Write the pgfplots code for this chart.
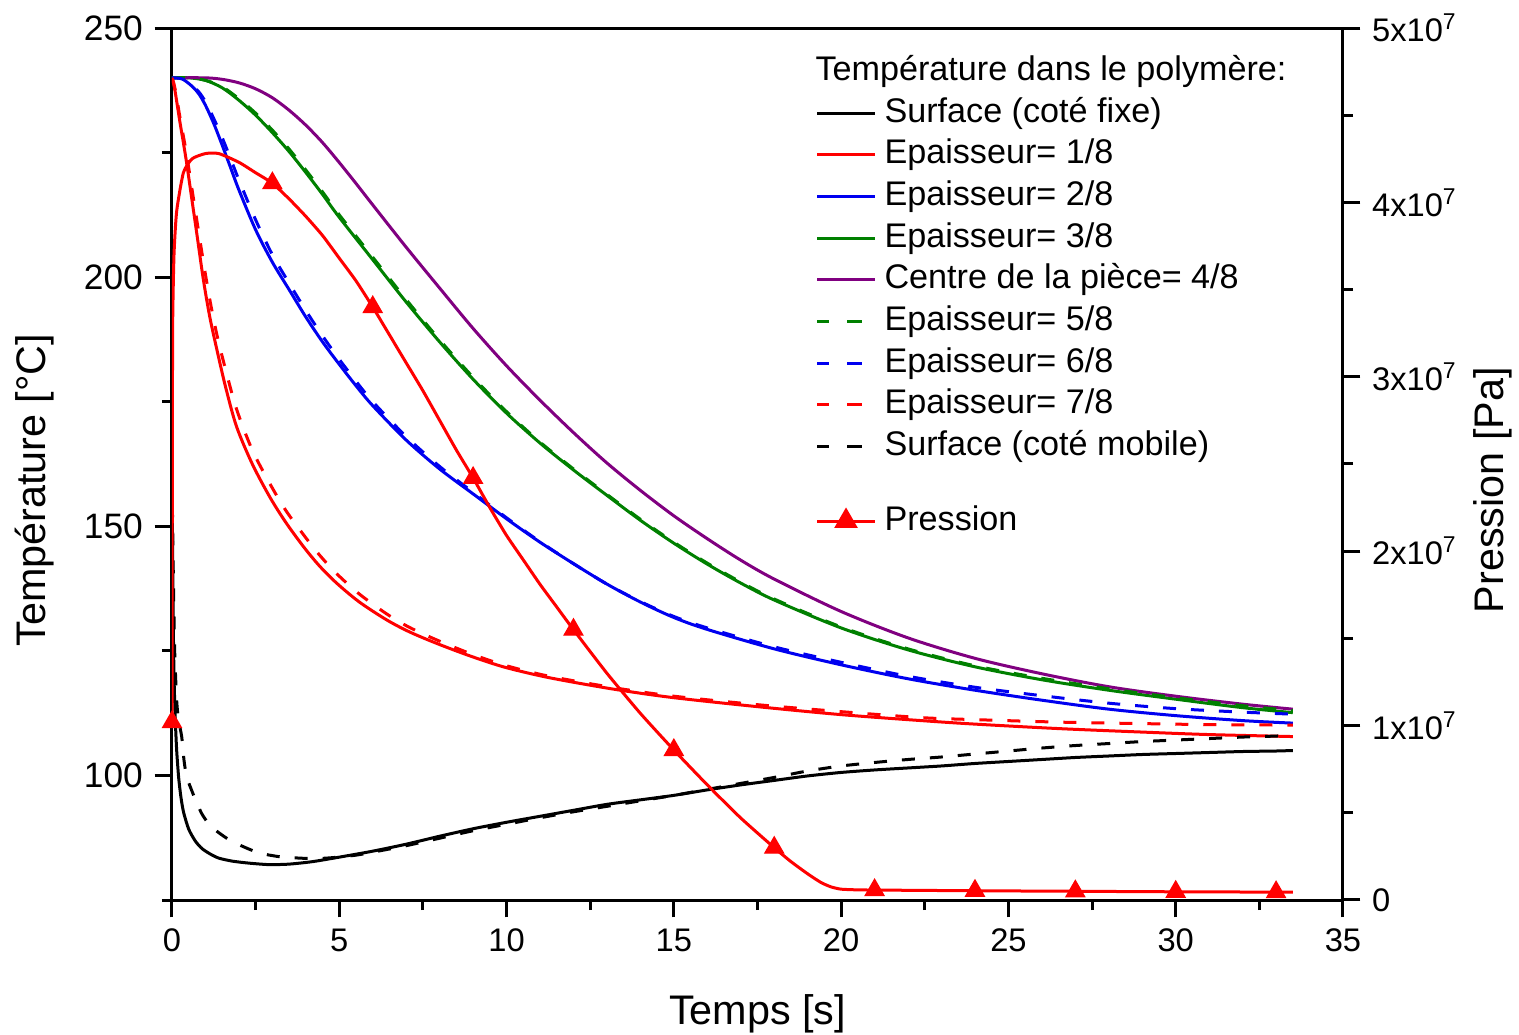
\documentclass[border=0pt]{standalone}
\usepackage{pgfplots}
\pgfplotsset{compat=1.18}
\usepackage{fontspec}
\setmainfont{Liberation Sans}
\usetikzlibrary{calc}
\definecolor{cred}{RGB}{255,0,0}
\definecolor{cblue}{RGB}{0,0,240}
\definecolor{cgreen}{RGB}{0,128,0}
\definecolor{cpurple}{RGB}{128,0,128}
\pgfplotsset{
  common/.style={
    scale only axis, width=351.3pt, height=261.6pt,
    xmin=0, xmax=35,
    axis line style={line width=0.9pt},
    tick align=outside,
    major tick length=5.2pt, minor tick length=3pt,
    every tick/.style={line width=0.9pt, black},
    tick label style={font=\fontsize{9.8}{11}\selectfont, /pgf/number format/assume math mode=true},
  },
  dashleg/.style={legend image code/.code={\draw[##1, dash pattern=on 3.6pt off 5.4pt on 4.5pt off 10pt] (0cm,0cm) -- (17.4pt,0cm);}},
}
\begin{document}
\begin{tikzpicture}
\begin{axis}[common, name=ax,
  ymin=75, ymax=250,
  xtick={0,5,...,35}, minor xtick={2.5,7.5,...,32.5},
  ytick={100,150,200,250}, minor ytick={75,125,175,225},
  xtick pos=bottom, ytick pos=left,
  yticklabel style={font=\fontsize{10.6}{12}\selectfont},
  xlabel={Temps [s]}, ylabel={Température [°C]},
  every axis x label/.style={at={(axis description cs:0.5,-0.13)}, anchor=center, font=\fontsize{12.4}{14}\selectfont},
  every axis y label/.style={at={(axis description cs:-0.117,0.47)}, rotate=90, anchor=center, font=\fontsize{12.4}{14}\selectfont},
  legend style={at={(axis description cs:0.549,0.922)}, anchor=north west, draw=none, fill=none,
    inner sep=0pt, row sep=2.7pt, column sep=2.4pt,
    font=\fontsize{10.25}{12}\selectfont,
    nodes={inner sep=0pt, text height=7.6pt, text depth=2.2pt}},
  legend cell align=left,
  legend image code/.code={\draw[#1] (0cm,0cm) -- (17.4pt,0cm);},
  every axis plot/.append style={line width=0.9pt},
]
\addplot[black, smooth, tension=0.4] coordinates {(0,160)(0.03,135)(0.06,120)(0.1,111)(0.14,105)(0.2,99.5)(0.27,95.5)(0.35,92.5)(0.5,89.2)(0.7,86.8)(0.9,85.3)(1.15,84.2)(1.4,83.4)(1.8,82.8)(2.3,82.4)(2.9,82.1)(3.5,82.2)(4.2,82.7)(5,83.6)(6,84.8)(7,86.2)(8,87.8)(9,89.3)(10,90.6)(11,91.8)(12,93)(13,94.2)(14,95.1)(15,96)(16,97.1)(17,98.1)(18,99)(19,99.9)(20,100.6)(21,101.1)(22,101.5)(23,101.9)(24,102.4)(25,102.8)(26,103.2)(27,103.6)(28,103.9)(29,104.2)(30,104.4)(31,104.6)(32,104.8)(33,104.9)(33.5,105.0)};
\addlegendentry{Surface (coté fixe)}
\addplot[cred, smooth, tension=0.5] coordinates {(0,240)(0.05,238.8)(0.1,237)(0.17,234)(0.24,231)(0.34,227)(0.44,222.8)(0.59,215.8)(0.74,208.8)(0.94,199.4)(1.13,192)(1.34,185.5)(1.6,178)(1.93,170)(2.4,162.5)(2.93,155.8)(3.4,150.8)(3.92,146)(4.4,142.1)(4.92,138.6)(5.6,134.8)(6.42,131.2)(7.1,128.8)(7.91,126.5)(8.9,124)(9.9,121.8)(11,120)(12,118.7)(13.4,117.1)(15,115.6)(17.5,113.8)(20,112.2)(22.4,111)(24,110.3)(26.5,109.4)(29,108.7)(31,108.2)(33.5,107.8)};
\addlegendentry{Epaisseur= 1/8}
\addplot[cblue, smooth, tension=0.5] coordinates {(0,240)(0.3,239.8)(0.6,238.3)(0.8,236.8)(1,234.5)(1.25,230.8)(1.5,226.5)(1.75,222)(2,217.5)(2.5,209.5)(3,203)(3.5,197.5)(4,192)(4.5,187)(5,182.5)(5.5,178.2)(6,174.2)(7,167.3)(8,161.5)(9,156.5)(10,151.5)(11,146.8)(12,142.5)(13,138.4)(14,134.8)(15,131.7)(16,129.3)(18,125.4)(20,122.2)(22,119.4)(24,117.1)(26,115.1)(28,113.3)(30,112)(32,111)(33.5,110.5)};
\addlegendentry{Epaisseur= 2/8}
\addplot[cgreen, smooth, tension=0.5] coordinates {(0,240)(0.5,240)(1,239.5)(1.5,238)(2,235.5)(2.5,232.5)(3,229)(3.5,225.2)(4,221)(4.5,216.6)(5,212)(6,203.5)(7,195)(8,187)(9,179.5)(10,172.7)(11,166.7)(12,161.3)(13,156.2)(14,151.2)(15,146.6)(16,142.4)(17,138.6)(18,135.2)(20,129.6)(22,125.2)(24,121.8)(26,119.2)(28,117.1)(30,115.3)(32,113.6)(33.5,112.6)};
\addlegendentry{Epaisseur= 3/8}
\addplot[cpurple, smooth, tension=0.5] coordinates {(0,240)(1,240)(1.5,239.7)(2,239)(2.5,237.8)(3,236)(3.5,233.5)(4,230.5)(4.5,227)(5,223)(5.5,218.8)(6,214.5)(7,206)(8,197.8)(9,189.7)(10,182.2)(11,175.3)(12,168.8)(13,162.7)(14,157.2)(15,152.1)(16,147.5)(17,143.2)(18,139.4)(20,132.9)(22,127.6)(24,123.5)(26,120.4)(28,117.8)(30,115.9)(32,114.3)(33.5,113.3)};
\addlegendentry{Centre de la pièce= 4/8}
\addplot[cgreen, smooth, tension=0.5, dash pattern=on 3.9pt off 4.5pt, dashleg] coordinates {(0,240)(0.5,240)(1,239.5)(1.5,238.2)(2,235.8)(2.5,232.9)(3,229.5)(3.5,225.7)(4,221.5)(4.5,217.1)(5,212.5)(6,204)(7,195.5)(8,187.4)(9,179.9)(10,173)(11,166.9)(12,161.5)(13,156.4)(14,151.4)(15,146.8)(16,142.6)(17,138.8)(18,135.4)(20,129.8)(22,125.4)(24,122)(26,119.5)(28,117.4)(30,115.6)(32,114)(33.5,113)};
\addlegendentry{Epaisseur= 5/8}
\addplot[cblue, smooth, tension=0.5, dash pattern=on 3.9pt off 4.5pt, dashleg] coordinates {(0,240)(0.3,239.8)(0.6,238.5)(0.8,237.2)(1,235.2)(1.25,231.8)(1.5,228)(1.75,223.8)(2,219.5)(2.5,211.5)(3,204.5)(3.5,198.8)(4,193.3)(4.5,188.2)(5,183.5)(5.5,179.1)(6,175)(7,168)(8,162)(9,156.8)(10,151.7)(11,146.9)(12,142.5)(13,138.4)(14,134.9)(15,131.9)(16,129.6)(18,125.8)(20,122.7)(22,119.9)(24,117.7)(26,116)(28,114.5)(30,113.4)(32,112.7)(33.5,112.3)};
\addlegendentry{Epaisseur= 6/8}
\addplot[cred, smooth, tension=0.5, dash pattern=on 3.9pt off 4.5pt, dashleg] coordinates {(0,240)(0.05,239)(0.1,237.5)(0.17,234.8)(0.24,232)(0.34,228.3)(0.44,224.5)(0.59,218)(0.74,211.5)(0.94,203)(1.13,195.5)(1.34,188.5)(1.6,181.5)(1.93,173.5)(2.4,165.3)(2.93,158.5)(3.4,153.2)(3.92,148.4)(4.4,144.3)(4.92,140.5)(5.6,136.4)(6.42,132.4)(7.1,129.7)(7.91,127.2)(8.9,124.5)(9.9,122.2)(11,120.3)(12,119)(13.4,117.4)(15,115.9)(17.5,114.2)(20,112.8)(22.4,111.6)(24,111.2)(26.5,110.7)(29,110.4)(31,110.2)(33.5,110.1)};
\addlegendentry{Epaisseur= 7/8}
\addplot[black, smooth, tension=0.4, dash pattern=on 3.9pt off 4.5pt, dashleg] coordinates {(0,160)(0.04,140)(0.08,125)(0.14,115)(0.2,111)(0.29,107.8)(0.36,103)(0.44,99.7)(0.6,96.8)(0.74,94.5)(0.9,92.2)(1.13,90)(1.4,88.5)(1.73,87)(2.2,85.5)(2.63,84.4)(3.2,83.7)(3.83,83.4)(4.3,83.3)(4.8,83.5)(5.5,84)(6,84.6)(7,85.9)(8,87.4)(9,88.9)(10,90.2)(11,91.5)(12,92.7)(13,93.8)(14,94.9)(15,96)(16,97.2)(17,98.4)(18,99.6)(19,100.9)(20,101.9)(21,102.6)(22,103.2)(23,103.7)(24,104.3)(25,104.9)(26,105.5)(27,106)(28,106.4)(29,106.8)(30,107.1)(31,107.4)(32,107.7)(33,107.9)(33.5,108.1)};
\addlegendentry{Surface (coté mobile)}
\node[anchor=west, inner sep=0pt, font=\fontsize{10.25}{12}\selectfont] at (axis description cs:0.549,0.950) {Température dans le polymère:};
\end{axis}
\begin{axis}[common,
  ymin=0, ymax=5e7,
  axis x line=none, axis y line*=right,
  ytick={0,1e7,2e7,3e7,4e7,5e7},
  yticklabels={0,1x10\textsuperscript{7},2x10\textsuperscript{7},3x10\textsuperscript{7},4x10\textsuperscript{7},5x10\textsuperscript{7}},
  minor ytick={0.5e7,1.5e7,2.5e7,3.5e7,4.5e7},
  scaled y ticks=false,
  ylabel={Pression [Pa]},
  every axis y label/.style={at={(axis description cs:1.128,0.47)}, rotate=90, anchor=center, font=\fontsize{12.4}{14}\selectfont},
  legend style={at={(axis description cs:0.549,0.454)}, anchor=north west, draw=none, fill=none,
    inner sep=0pt, column sep=2.4pt,
    font=\fontsize{10.25}{12}\selectfont,
    nodes={inner sep=0pt, text height=7.6pt, text depth=2.2pt}},
  legend image code/.code={\draw[#1] (0cm,0cm) -- (17.4pt,0cm); \draw[#1, solid] plot coordinates {(8.7pt,0cm)};},
]
\addplot[cred, line width=0.9pt, smooth, tension=0.35, forget plot] coordinates {(0,1.02e7)(0.01,2.5e7)(0.02,3.3e7)(0.06,3.7e7)(0.14,3.95e7)(0.34,4.17e7)(0.6,4.25e7)(1.0,4.28e7)(1.4,4.28e7)(2,4.23e7)(2.5,4.17e7)(3,4.11e7)(3.5,4.02e7)(4,3.92e7)(4.5,3.81e7)(5,3.68e7)(5.5,3.55e7)(6,3.40e7)(6.5,3.24e7)(7,3.08e7)(7.5,2.92e7)(8,2.75e7)(8.5,2.58e7)(9,2.42e7)(9.5,2.25e7)(10,2.09e7)(10.5,1.95e7)(11,1.81e7)(11.5,1.68e7)(12,1.55e7)(13,1.30e7)(14,1.07e7)(15,0.86e7)(16,0.66e7)(17,0.47e7)(18,0.30e7)(18.5,0.22e7)(19,0.15e7)(19.4,0.10e7)(19.7,0.075e7)(20,0.062e7)(20.5,0.058e7)(21,0.057e7)(24,0.053e7)(27,0.05e7)(30,0.047e7)(33.5,0.045e7)};
\addplot[cred, only marks, mark=triangle*, mark size=3.2pt, forget plot] coordinates {(0,1.02e7)(3,4.11e7)(6,3.40e7)(9,2.42e7)(12,1.55e7)(15,0.86e7)(18,0.30e7)(21,0.057e7)(24,0.053e7)(27,0.05e7)(30,0.047e7)(33,0.045e7)};
\addlegendimage{cred, line width=0.9pt, mark=triangle*, mark size=3.2pt}
\addlegendentry{Pression}
\end{axis}
\pgfresetboundingbox
\path ($(ax.south west)+(-51.6pt,-40.5pt)$) rectangle ($(ax.north east)+(52.8pt,8.4pt)$);
\end{tikzpicture}
\end{document}
